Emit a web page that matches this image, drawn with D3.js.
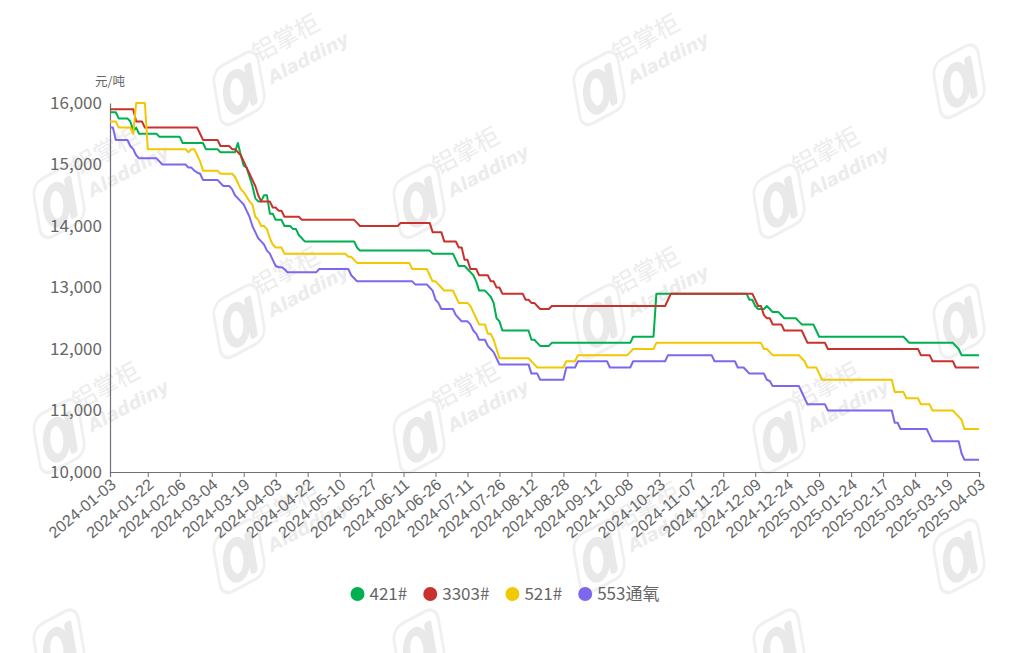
<!DOCTYPE html>
<html>
<head>
<meta charset="utf-8">
<script src="https://cdn.jsdelivr.net/npm/d3@7/dist/d3.min.js"></script>
<style>
  html, body { margin: 0; padding: 0; background: #fff; }
  svg { display: block; font-family: "Noto Sans CJK SC", "Noto Sans", sans-serif; }
</style>
</head>
<body>
<svg id="chart" width="1010" height="653"></svg>
<script>
// ---------------- DATA ----------------
const categoryCount = 300; // trading days 2024-01-03 .. 2025-04-03
const xTickLabels = ["2024-01-03","2024-01-22","2024-02-06","2024-03-04","2024-03-19","2024-04-03","2024-04-22","2024-05-10","2024-05-27","2024-06-11","2024-06-26","2024-07-11","2024-07-26","2024-08-12","2024-08-28","2024-09-12","2024-10-08","2024-10-23","2024-11-07","2024-11-22","2024-12-09","2024-12-24","2025-01-09","2025-01-24","2025-02-17","2025-03-04","2025-03-19","2025-04-03"];
const xTickIndex = [0,13,24,35,46,57,68,79,90,101,112,123,134,145,156,167,178,189,200,211,222,233,244,255,266,277,288,299];
const yTicks = [10000,11000,12000,13000,14000,15000,16000];
const seriesNames = ["421#","3303#","521#","553通氧"];
const seriesColors = ["#00B050","#C8322D","#F2C800","#7B68EE"];

// price changes: [day index, price from that day on]
const s421 = [[0,15850],[3,15750],[7,15700],[8,15550],[9,15600],[10,15500],[17,15450],[25,15350],[33,15250],[38,15200],[44,15350],[45,15150],[46,14980],[47,14950],[48,14800],[49,14650],[50,14450],[51,14400],[53,14500],[55,14200],[57,14100],[60,14000],[63,13950],[65,13850],[66,13800],[67,13750],[85,13650],[86,13600],[111,13550],[119,13450],[120,13350],[123,13300],[124,13250],[125,13200],[126,13100],[127,12950],[130,12900],[131,12850],[132,12750],[133,12500],[134,12450],[135,12300],[145,12150],[147,12100],[148,12050],[152,12100],[180,12200],[188,12900],[220,12800],[222,12700],[223,12650],[226,12700],[227,12650],[228,12600],[231,12550],[232,12500],[237,12450],[238,12400],[243,12300],[244,12200],[274,12150],[275,12100],[291,12050],[292,12000],[293,11900]];
const s3303 = [[0,15900],[9,15700],[12,15600],[31,15500],[32,15400],[38,15300],[42,15250],[44,15200],[45,15150],[46,15050],[47,14950],[48,14850],[49,14750],[50,14650],[51,14500],[52,14400],[56,14300],[58,14250],[60,14150],[66,14100],[85,14050],[86,14000],[100,14050],[111,13900],[115,13750],[120,13650],[122,13450],[124,13300],[127,13200],[131,13100],[133,13000],[135,12900],[143,12800],[145,12750],[147,12700],[148,12650],[152,12700],[192,12800],[193,12900],[222,12800],[223,12700],[225,12550],[226,12500],[228,12400],[232,12300],[239,12200],[240,12100],[247,12000],[279,11900],[283,11800],[291,11700]];
const s521 = [[0,15700],[3,15600],[8,15500],[9,16000],[13,15250],[27,15200],[28,15250],[30,15150],[31,15050],[32,14900],[38,14850],[43,14800],[44,14700],[45,14600],[46,14550],[47,14480],[48,14400],[49,14350],[50,14150],[51,14100],[52,14000],[54,13950],[55,13800],[56,13700],[57,13650],[60,13550],[82,13500],[84,13450],[85,13400],[104,13300],[110,13200],[111,13100],[113,13050],[114,13000],[115,12950],[119,12850],[120,12750],[124,12700],[125,12600],[126,12500],[127,12400],[130,12250],[132,12150],[133,12000],[134,11850],[145,11800],[146,11750],[147,11700],[157,11800],[161,11900],[179,11950],[180,12000],[188,12100],[225,12000],[227,11950],[228,11900],[238,11850],[239,11800],[240,11700],[244,11600],[245,11500],[270,11300],[274,11200],[279,11100],[283,11000],[291,10950],[292,10900],[293,10850],[294,10700]];
const s553 = [[0,15600],[2,15400],[7,15300],[8,15250],[9,15150],[10,15100],[17,15050],[18,15000],[27,14950],[29,14900],[30,14870],[31,14850],[32,14750],[38,14700],[39,14650],[42,14600],[43,14500],[44,14450],[45,14400],[46,14350],[47,14250],[48,14150],[49,14000],[50,13900],[51,13800],[52,13750],[53,13700],[54,13600],[55,13550],[56,13450],[57,13350],[58,13330],[60,13300],[61,13250],[72,13300],[83,13200],[84,13150],[85,13100],[105,13050],[110,13000],[111,12950],[112,12800],[113,12750],[114,12650],[119,12550],[120,12500],[121,12450],[124,12400],[125,12300],[126,12250],[127,12150],[130,12050],[131,12000],[132,11950],[133,11850],[134,11750],[145,11600],[148,11500],[157,11700],[161,11800],[172,11700],[180,11800],[192,11900],[208,11800],[216,11700],[219,11650],[220,11600],[226,11500],[227,11480],[228,11400],[238,11300],[239,11200],[240,11100],[247,11000],[270,10800],[272,10700],[282,10600],[283,10500],[293,10300],[294,10200]];
const seriesChanges = [s421, s3303, s521, s553];

// ---------------- CHART ----------------
const svg = d3.select("#chart");
const M = {left: 110, right: 979, top: 103, bottom: 472};

// daily values: each published price holds until the next change
function daily(changes) {
  const out = [];
  for (let k = 0; k < changes.length; k++) {
    const start = changes[k][0];
    const end = k + 1 < changes.length ? changes[k + 1][0] : categoryCount;
    for (let i = start; i < end; i++) out.push({i: i, v: changes[k][1]});
  }
  return out;
}

// watermarks (logo drawn as shapes; brand text where it fits on the page)
const wmPos = [[215,92],[575,92],[935,85],[35,205],[395,205],[755,205],[215,325],[575,325],[935,325],[35,440],[395,440],[755,440],[215,560],[575,560],[935,560],[35,650],[395,650],[755,650]];
const wm = svg.append("g").attr("class","watermarks").attr("pointer-events","none");
wmPos.forEach(p => {
  const g = wm.append("g").attr("transform", `translate(${p[0]},${p[1]}) rotate(-28)`);
  const logo = g.append("g").attr("transform", "translate(22,8) skewX(-18)");
  logo.append("rect").attr("x", -24).attr("y", -28).attr("width", 50).attr("height", 56)
    .attr("rx", 12).attr("fill", "none").attr("stroke", "#f0f0f0").attr("stroke-width", 3);
  logo.append("ellipse").attr("cx", -2).attr("cy", 2).attr("rx", 11).attr("ry", 17)
    .attr("fill", "none").attr("stroke", "#e9e9e9").attr("stroke-width", 8);
  logo.append("rect").attr("x", 10).attr("y", -18).attr("width", 8).attr("height", 40)
    .attr("rx", 3).attr("fill", "#e9e9e9");
  const fits = p[0] + 130 < 1010 && p[1] + 40 < 653;
  if (fits) {
    g.append("text").attr("x", 52).attr("y", -6)
      .attr("font-size", 24).attr("fill", "#ececec").text("铝掌柜");
    g.append("text").attr("x", 54).attr("y", 20)
      .attr("font-size", 18).attr("font-weight", "bold").attr("font-style", "italic")
      .attr("font-family", "DejaVu Sans, sans-serif")
      .attr("fill", "#ececec").text("Aladdiny");
  }
});

const x = d3.scaleLinear().domain([0, categoryCount - 1]).range([M.left, M.right]);
const y = d3.scaleLinear().domain([10000, 16000]).range([M.bottom, M.top]);

// y axis
const yAxis = svg.append("g").attr("transform", `translate(${M.left},0)`)
  .call(d3.axisLeft(y).tickValues(yTicks).tickSize(0).tickPadding(8).tickFormat(d3.format(",")));
yAxis.select(".domain").attr("stroke", "#6E7079").attr("stroke-width", 1.2);
yAxis.selectAll("text").attr("fill", "#666").attr("font-size", 17)
  .attr("font-family", "Noto Sans CJK SC, sans-serif");

svg.append("text").attr("x", 110).attr("y", 86).attr("text-anchor", "middle")
  .attr("fill", "#666").attr("font-size", 12.5).text("元/吨");

// x axis
const xAxis = svg.append("g").attr("transform", `translate(0,${M.bottom})`)
  .call(d3.axisBottom(x).tickValues(xTickIndex).tickSize(5).tickPadding(6)
    .tickFormat((d, i) => xTickLabels[i]));
xAxis.select(".domain").attr("stroke", "#6E7079").attr("stroke-width", 1.2);
xAxis.selectAll(".tick line").attr("stroke", "#6E7079");
xAxis.selectAll("text")
  .attr("fill", "#666").attr("font-size", 16)
  .attr("text-anchor", "end")
  .attr("y", 0).attr("dy", "0.35em")
  .attr("transform", "translate(3,10) rotate(-40)");

// lines
const line = d3.line().x(d => x(d.i)).y(d => y(d.v));
seriesChanges.forEach((ch, k) => {
  svg.append("path").datum(daily(ch))
    .attr("fill", "none").attr("stroke", seriesColors[k]).attr("stroke-width", 2)
    .attr("stroke-linejoin", "round").attr("d", line);
});

// legend
const legend = svg.append("g");
let cursor = 0;
const gap = 16;
seriesNames.forEach((name, k) => {
  const g = legend.append("g");
  g.append("circle").attr("cx", 7).attr("cy", 0).attr("r", 7).attr("fill", seriesColors[k]);
  const t = g.append("text").attr("x", 19).attr("y", 0).attr("dy", "0.35em")
    .attr("fill", "#666").attr("font-size", 17).text(name);
  const w = 19 + t.node().getComputedTextLength();
  g.attr("transform", `translate(${cursor},0)`);
  cursor += w + gap;
});
const total = cursor - gap;
legend.attr("transform", `translate(${505 - total / 2},594)`);
</script>
</body>
</html>
